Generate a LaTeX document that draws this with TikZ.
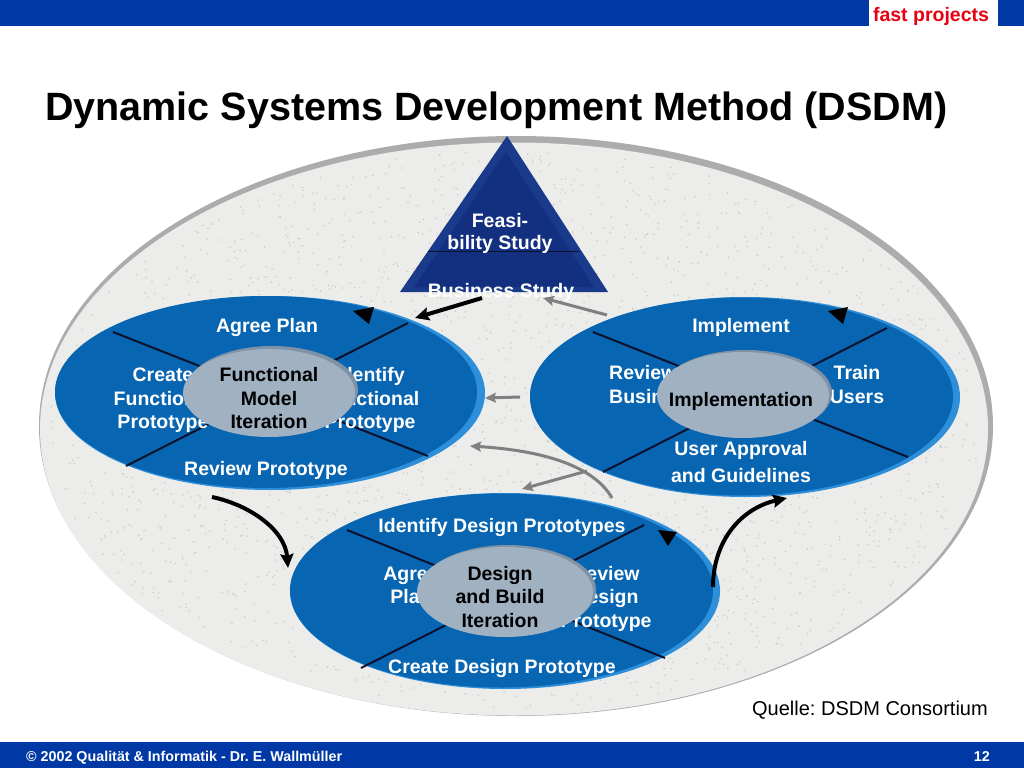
\documentclass[tikz,border=0pt]{standalone}
\usepackage{fontspec}
\setmainfont{Liberation Sans}
\frenchspacing
\usetikzlibrary{shapes.geometric,arrows.meta}
\definecolor{barblue}{RGB}{0,57,166}
\definecolor{fastred}{RGB}{230,0,18}
\definecolor{ellblue}{RGB}{8,101,178}
\definecolor{ellrim}{RGB}{45,142,218}
\definecolor{innerfill}{RGB}{160,177,194}
\definecolor{innerrim}{RGB}{128,146,166}
\definecolor{navy}{RGB}{26,58,140}
\definecolor{navyin}{RGB}{19,48,128}
\definecolor{bggray}{RGB}{236,236,234}
\definecolor{speck}{RGB}{205,205,202}
\definecolor{rimgray}{RGB}{172,172,172}
\definecolor{arrgray}{RGB}{128,128,128}
\definecolor{crossline}{RGB}{10,18,45}
\newcommand\lbfont{\fontsize{19.5}{23.5}\selectfont\bfseries}
\tikzset{
  lbl/.style={font=\lbfont, text=white, inner sep=0pt, anchor=base},
  ilbl/.style={font=\lbfont, text=black, inner sep=0pt, anchor=base},
  blueell/.style={ellipse, fill=ellblue, inner sep=0pt},
  rimell/.style={ellipse, fill=ellrim, inner sep=0pt},
  innell/.style={ellipse, fill=innerfill, inner sep=0pt, minimum width=172pt, minimum height=88pt},
  innrim/.style={ellipse, fill=innerrim, inner sep=0pt, minimum width=172pt, minimum height=88pt},
  cross/.style={draw=crossline, line width=2pt},
  blackarrow/.style={draw=black, line width=4pt, -{Stealth[length=14pt,width=13pt,inset=2pt]}},
  grayarrow/.style={draw=arrgray, line width=3pt, -{Stealth[length=11pt,width=10pt,inset=2pt]}},
  marker/.style={fill=black}
}
\begin{document}
\begin{tikzpicture}[x=1pt,y=-1pt]
\useasboundingbox (0,0) rectangle (1024,768);
\fill[white] (0,0) rectangle (1024,768);
% header and footer
\fill[barblue] (0,0) rectangle (1024,26);
\fill[white] (869,0) rectangle (998,28);
\node[font=\fontsize{19.5}{22}\selectfont\bfseries, text=fastred, anchor=base, inner sep=0pt] (fp) at (931,22) {fast projects};
\node[font=\fontsize{39.5}{46}\selectfont\bfseries, anchor=base west, inner sep=0pt] (title) at (45,120) {Dynamic Systems Development Method (DSDM)};
\fill[barblue] (0,742) rectangle (1024,768);
\node[font=\fontsize{14.3}{16}\selectfont\bfseries, text=white, anchor=base west, inner sep=0pt] (foot) at (26,761) {© 2002 Qualität \& Informatik - Dr. E. Wallmüller};
\node[font=\fontsize{14.3}{16}\selectfont\bfseries, text=white, anchor=base east, inner sep=0pt] (pg) at (990,761) {12};
\node[font=\fontsize{20}{22}\selectfont, anchor=base east, inner sep=0pt] (src) at (988,715) {Quelle: DSDM Consortium};
% big background ellipse
\node[ellipse, fill=rimgray, inner sep=0pt, minimum width=954pt, minimum height=580pt] (bgrim) at (516,426) {};
\node[ellipse, fill=bggray, inner sep=0pt, minimum width=948pt, minimum height=573pt] (bg) at (514,429) {};
\pgfmathsetseed{7}
\foreach \i in {1,...,2600}{
  \pgfmathsetmacro\rr{sqrt(rnd)*0.985}
  \pgfmathsetmacro\aa{360*rnd}
  \fill[speck] ({514+472*\rr*cos(\aa)},{429+284*\rr*sin(\aa)}) circle (0.9pt);
}
% feasibility triangle
\fill[navy] (507,136) -- (608,292) -- (400,292) -- cycle;
\fill[navyin] (506,152) -- (594,287) -- (414,287) -- cycle;
\draw[crossline, line width=1pt] (428,251) -- (579,251);
\node[lbl] (fs1) at (500,227) {Feasi-};
\node[lbl] (fs2) at (500,249) {bility Study};
\node[lbl] (bs) at (501,297) {Business Study};
% functional model iteration
\node[rimell, minimum width=430pt, minimum height=194pt] (fmrim) at (270,393) {};
\node[blueell, minimum width=422pt, minimum height=192pt] (fm) at (266,392) {};
\draw[cross] (113,332) -- (428,456);
\draw[cross] (408,323) -- (126,466);
\node[lbl] (fmt) at (267,332) {Agree Plan};
\node[lbl] (fml1) at (163,381) {Create};
\node[lbl] (fml2) at (163,405) {Functional};
\node[lbl] (fml3) at (163,428) {Prototype};
\node[lbl] (fmr1) at (370,381) {Identify};
\node[lbl] (fmr2) at (370,405) {Functional};
\node[lbl] (fmr3) at (370,428) {Prototype};
\node[lbl] (fmb) at (266,475) {Review Prototype};
\node[innrim] (fmirim) at (272,390) {};
\node[innell] (fmi) at (269,393) {};
\node[ilbl] (fmi1) at (269,381) {Functional};
\node[ilbl] (fmi2) at (269,405) {Model};
\node[ilbl] (fmi3) at (269,428) {Iteration};
% implementation
\node[rimell, minimum width=430pt, minimum height=200pt] (imrim) at (745,397) {};
\node[blueell, minimum width=423pt, minimum height=198pt] (im) at (741.5,396.5) {};
\draw[cross] (593,332) -- (908,457);
\draw[cross] (887,328) -- (603,472);
\node[lbl] (imt) at (741,332) {Implement};
\node[lbl, anchor=base west] (iml1) at (609,379) {Review};
\node[lbl, anchor=base west] (iml2) at (609,403) {Business};
\node[lbl] (imr1) at (857,379) {Train};
\node[lbl] (imr2) at (857,403) {Users};
\node[lbl] (imb1) at (741,455) {User Approval};
\node[lbl] (imb2) at (741,482) {and Guidelines};
\node[innrim, minimum height=86pt] (imirim) at (746,393) {};
\node[innell, minimum height=86pt] (imi) at (743,395) {};
\node[ilbl] (imi1) at (741,406) {Implementation};
% design and build iteration
\node[rimell, minimum width=430pt, minimum height=196pt] (dbrim) at (505,591) {};
\node[blueell, minimum width=423pt, minimum height=194pt] (db) at (501.5,590.5) {};
\draw[cross] (347,530) -- (665,658);
\draw[cross] (644,525) -- (361,668);
\node[lbl] (dbt) at (502,532) {Identify Design Prototypes};
\node[lbl] (dbl1) at (411,580) {Agree};
\node[lbl] (dbl2) at (411,603) {Plan};
\node[lbl] (dbr1) at (606,580) {Review};
\node[lbl] (dbr2) at (606,603) {Design};
\node[lbl] (dbr3) at (606,627) {Prototype};
\node[lbl] (dbb) at (502,673) {Create Design Prototype};
\node[innrim, minimum width=176pt, minimum height=90pt] (dbirim) at (508,590) {};
\node[innell, minimum width=176pt, minimum height=90pt] (dbi) at (505,592) {};
\node[ilbl] (dbi1) at (500,580) {Design};
\node[ilbl] (dbi2) at (500,603) {and Build};
\node[ilbl] (dbi3) at (500,627) {Iteration};
% direction markers
\fill[marker] (353,311) -- (374,307) -- (369,324) -- cycle;
\fill[marker] (828,311) -- (848,307) -- (843,324) -- cycle;
\fill[marker] (658,530) -- (677,532) -- (668,546) -- cycle;
% arrows
\coordinate (a1s) at (482,298); \coordinate (a1e) at (415,318);
\coordinate (a2s) at (607,315); \coordinate (a2e) at (543,298);
\coordinate (a3s) at (520,397); \coordinate (a3e) at (485,398);
\coordinate (a4s) at (612,498); \coordinate (a4e) at (470,446);
\coordinate (a5s) at (587,471); \coordinate (a5e) at (522,489);
\coordinate (a6s) at (212,497); \coordinate (a6e) at (288,568);
\coordinate (a7s) at (713,587); \coordinate (a7e) at (787,498);
\draw[blackarrow] (a1s) -- (a1e);
\draw[grayarrow] (a2s) -- (a2e);
\draw[grayarrow] (a3s) -- (a3e);
\draw[grayarrow] (a4s) .. controls (592,463) and (535,450) .. (a4e);
\draw[grayarrow] (a5s) -- (a5e);
\draw[blackarrow] (a6s) .. controls (250,505) and (285,530) .. (a6e);
\draw[blackarrow] (a7s) .. controls (713,540) and (742,508) .. (a7e);
\end{tikzpicture}
\end{document}
